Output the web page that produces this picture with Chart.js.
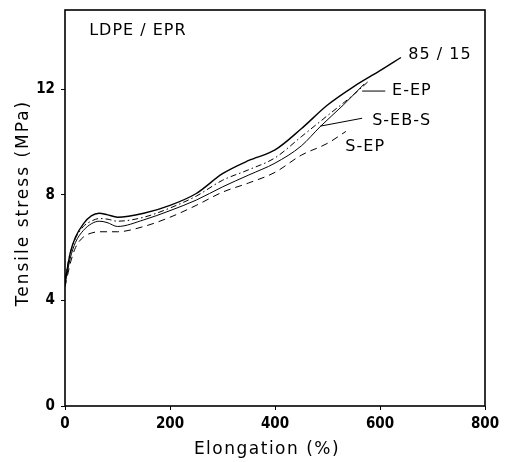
<!DOCTYPE html>
<html>
<head>
<meta charset="utf-8">
<script src="https://cdn.jsdelivr.net/npm/chart.js@4.4.0/dist/chart.umd.min.js"></script>
<style>
html, body { margin: 0; padding: 0; background: #fff; }
#wrap { width: 505px; height: 462px; }
</style>
</head>
<body>
<div id="wrap"><canvas id="myChart"></canvas></div>
<script>
// values: elongation (%) -> tensile stress (MPa)
var elong8515  = [0, 10, 20, 35, 50, 65, 80, 100, 150, 200, 250, 300, 350, 400, 450, 500, 550, 600, 640];
var stress8515 = [4.7, 5.8, 6.4, 6.9, 7.2, 7.3, 7.25, 7.15, 7.3, 7.6, 8.05, 8.8, 9.3, 9.7, 10.5, 11.4, 12.1, 12.7, 13.2];

var elongEEP  = [0, 10, 20, 35, 50, 65, 80, 100, 150, 200, 250, 300, 350, 400, 450, 500, 550, 578];
var stressEEP = [4.8, 5.8, 6.35, 6.8, 7.0, 7.1, 7.08, 7.0, 7.15, 7.5, 7.95, 8.55, 8.95, 9.4, 10.2, 11.0, 11.8, 12.3];

var elongSEBS  = [0, 10, 20, 35, 50, 65, 80, 100, 150, 200, 250, 300, 350, 400, 450, 487, 530, 570];
var stressSEBS = [4.6, 5.6, 6.2, 6.65, 6.9, 7.0, 6.95, 6.8, 7.05, 7.4, 7.8, 8.3, 8.75, 9.2, 9.85, 10.6, 11.4, 12.2];

var elongSEP  = [0, 10, 20, 35, 50, 65, 80, 100, 150, 200, 250, 300, 350, 400, 450, 500, 535];
var stressSEP = [4.5, 5.4, 6.0, 6.4, 6.55, 6.6, 6.6, 6.6, 6.8, 7.15, 7.6, 8.1, 8.45, 8.85, 9.5, 9.95, 10.4];

var xTicks = [0, 200, 400, 600, 800];
var yTicks = [0, 4, 8, 12];

var xTitle = "Elongation (%)";
var yTitle = "Tensile stress (MPa)";

function pts(xs, ys) {
    return xs.map((x, i) => ({ x: x, y: ys[i] }));
}

// text labels placed in data coordinates
var notes = [
    { text: "LDPE / EPR", x: 46, y: 14.2, size: 16 },
    { text: "85 / 15", x: 654, y: 13.3, size: 16 },
    { text: "E-EP", x: 623, y: 11.93, size: 16 },
    { text: "S-EB-S", x: 585, y: 10.82, size: 16 },
    { text: "S-EP", x: 534, y: 9.8, size: 16 }
];
var leaders = [
    [566, 11.93, 610, 11.93],
    [486, 10.6, 566, 10.9]
];

var frame = {
    id: 'frame',
    afterDraw(chart) {
        const ctx = chart.ctx, a = chart.chartArea;
        const xs = chart.scales.x, ys = chart.scales.y;
        ctx.save();
        ctx.strokeStyle = '#000';
        ctx.lineWidth = 1.6;
        ctx.strokeRect(a.left, a.top, a.right - a.left, a.bottom - a.top);
        ctx.lineWidth = 1;
        leaders.forEach(l => {
            ctx.beginPath();
            ctx.moveTo(xs.getPixelForValue(l[0]), ys.getPixelForValue(l[1]));
            ctx.lineTo(xs.getPixelForValue(l[2]), ys.getPixelForValue(l[3]));
            ctx.stroke();
        });
        ctx.fillStyle = '#000';
        ctx.textBaseline = 'middle';
        ctx.textAlign = 'left';
        ctx.letterSpacing = '1px';
        notes.forEach(n => {
            ctx.font = n.size + 'px "DejaVu Sans", sans-serif';
            ctx.fillText(n.text, xs.getPixelForValue(n.x), ys.getPixelForValue(n.y));
        });
        // axis titles, spaced out like the original print
        ctx.textAlign = 'center';
        ctx.font = '17px "DejaVu Sans", sans-serif';
        ctx.letterSpacing = '1.5px';
        ctx.fillText(xTitle, (a.left + a.right) / 2 - 8, 450);
        ctx.letterSpacing = '2px';
        ctx.translate(24, (a.top + a.bottom) / 2 - 5);
        ctx.rotate(-Math.PI / 2);
        ctx.fillText(yTitle, 0, 0);
        ctx.restore();
    }
};

var tickFont = { family: '"DejaVu Sans Condensed", "DejaVu Sans", sans-serif', size: 15, weight: 'bold' };

const ctx = document.getElementById('myChart');
new Chart(ctx, {
    type: 'scatter',
    data: {
        datasets: [
            { label: "85 / 15", data: pts(elong8515, stress8515), borderColor: '#000', borderWidth: 1.4, borderDash: [] },
            { label: "E-EP", data: pts(elongEEP, stressEEP), borderColor: '#000', borderWidth: 1, borderDash: [6, 3, 1.5, 3] },
            { label: "S-EB-S", data: pts(elongSEBS, stressSEBS), borderColor: '#000', borderWidth: 1, borderDash: [] },
            { label: "S-EP", data: pts(elongSEP, stressSEP), borderColor: '#000', borderWidth: 1, borderDash: [7, 5] }
        ].map(d => Object.assign(d, { showLine: true, pointRadius: 0, fill: false, cubicInterpolationMode: 'monotone' }))
    },
    options: {
        responsive: true,
        maintainAspectRatio: false,
        animation: false,
        layout: { padding: { top: 10, right: 20, left: 0, bottom: 0 } },
        plugins: { legend: { display: false }, tooltip: { enabled: false } },
        scales: {
            x: {
                type: 'linear', min: 0, max: 800,
                afterBuildTicks: s => { s.ticks = xTicks.map(v => ({ value: v })); },
                afterFit: s => { s.height = 56; s.paddingRight = 0; },
                grid: { drawOnChartArea: false, tickLength: 4, color: '#000' },
                border: { display: false },
                ticks: { color: '#000', padding: 5, maxRotation: 0, font: tickFont }
            },
            y: {
                type: 'linear', min: 0, max: 15,
                afterBuildTicks: s => { s.ticks = yTicks.map(v => ({ value: v })); },
                afterFit: s => { s.width = 65; s.paddingTop = 0; },
                grid: { drawOnChartArea: false, tickLength: 4, color: '#000' },
                border: { display: false },
                ticks: { color: '#000', padding: 6, font: tickFont }
            }
        }
    },
    plugins: [frame]
});
</script>
</body>
</html>
